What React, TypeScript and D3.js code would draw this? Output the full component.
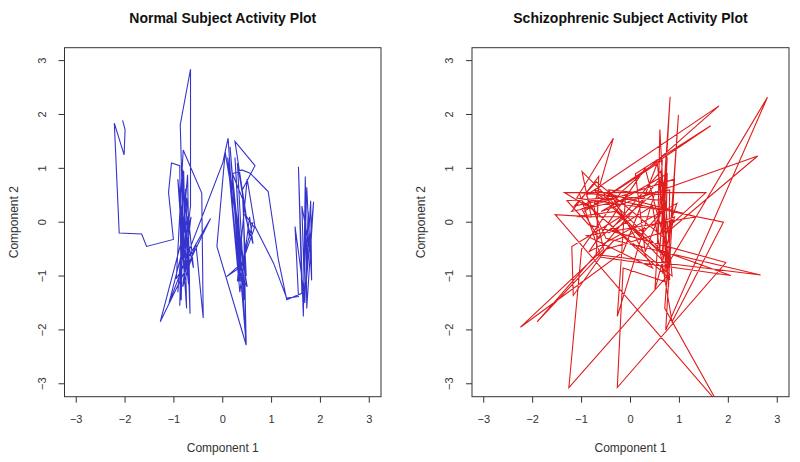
import React from "react";
import * as d3 from "d3";

// Normal subject trajectory: Component 1 (x), Component 2 (y)
const normalX = [
  -2.05, -2.0, -2.02, -2.22, -2.12, -1.66, -1.56, -1.01, -1.11, -1.05, -0.88, -0.85, -0.8, -0.74, -0.92, -0.7, -0.82, -0.88,
  -0.76, -0.67, -0.72, -0.92, -0.74, -0.6, -0.86, -0.78, -0.87, -0.66, -0.66, -0.8, -0.7, -1.28, -0.25, -0.95, -0.81, -0.43,
  -0.4, -0.55, -0.82, -0.65, -1.1, 0.0, 0.11, 0.2, 0.35, 0.15, 0.48, 0.25, 0.38, 0.18, 0.45, 0.3, 0.55, 0.25, 0.66, 0.4,
  0.48, 0.1, 0.35, 0.55, 0.62, 0.45, 0.65, 0.4, 0.08, 0.32, 0.5, 0.05, -0.12, 0.48, 0.42, 0.2, 0.39, 0.56, 0.93, 1.14, 1.31,
  1.62, 1.55, 1.65, 1.69, 1.72, 1.86, 1.7, 1.8, 1.82, 1.75, 1.68, 1.62, 1.78, 1.72, 1.66, 1.48, 1.55, 1.31, 1.04, 0.66, 0.5,
  0.3, 0.62,
];
const normalY = [
  1.89, 1.72, 1.25, 1.84, -0.2, -0.22, -0.45, -0.32, 0.55, 1.1, 1.05, -1.45, 0.95, -1.6, 0.8, -1.15, 0.98, -1.55, 0.62, -1.7,
  0.88, -1.3, 0.45, -0.85, 0.3, -1.1, 1.81, 2.84, 0.3, -0.75, 0.15, -1.85, 0.07, -1.05, 1.34, 0.54, -1.78, -0.4, -1.2, 0.1,
  -1.5, 1.1, 1.56, 0.3, -1.1, 1.4, -2.28, 1.2, -0.9, 1.05, -1.45, 1.1, -0.3, 1.5, 1.05, 0.6, -1.0, 1.2, -1.3, 0.1, -0.4,
  0.15, -0.1, -0.75, -1.01, -0.86, -1.2, 1.3, -0.45, -2.28, 0.4, 0.9, 0.97, 0.91, 0.57, -0.7, -1.44, -1.32, 1.03, -1.75,
  0.85, -1.6, 0.38, -1.2, 0.4, -1.08, 0.2, -1.5, 0.3, -0.5, 0.65, -1.3, -0.08, -1.38, -1.41, -0.76, -0.08, 0.8, -1.1, 0.0,
];

// Schizophrenic subject trajectory
const schizoX = [
  -0.9, -1.35, 1.54, 0.65, 0.81, 0.6, -0.99, -0.8, -1.54, 1.78, 0.7, 0.98, 0.85, -1.1, -0.35, -0.75, -0.55, -2.25, -0.15,
  0.55, 0.78, 0.8, -1.2, -0.65, -0.7, 2.66, -0.5, -0.9, 1.81, -0.2, -1.0, -1.26, 0.75, 0.6, -0.8, -1.91, -0.35, 0.9, 0.5,
  0.65, -0.95, 1.64, 0.1, 0.3, 0.7, -1.05, -0.6, 2.05, 0.55, 0.6, 0.75, -0.2, -1.2, -1.17, -0.5, 0.8, 2.6, -0.6, 0.75, 0.7,
  -0.15, -0.27, 1.95, -0.85, -1.3, -0.5, 1.9, 0.85, 0.45, -0.45, 0.62, 0.8, -0.9, -0.55, 0.2, 0.7, 0.65, 2.8, 0.72, 0.9,
  -1.0, -0.65, 0.5, -0.27, -0.1, -1.15, -0.7, 0.7, 0.95, -0.85, 0.3, 0.8, -0.3, -1.1, 0.6, 0.75, 0.65, -0.75, 1.35, -0.9,
  0.45, -0.45, 0.7, 0.85, -1.0,
];
const schizoY = [
  0.3, 0.55, 0.55, -0.2, 2.33, -0.5, 0.94, 0.1, 0.14, -3.35, -1.6, 1.99, 0.2, 0.45, 1.56, 0.3, -0.5, -1.95, -0.55, 1.1,
  -1.2, 0.6, 0.2, 0.85, -0.6, -0.98, -0.3, 0.5, 2.16, 0.55, -0.5, -3.07, -1.0, 0.8, -0.7, -1.85, -0.35, 0.1, -1.25, 1.15,
  0.2, 1.79, 0.9, -0.55, 0.4, 0.55, -0.65, -0.99, -0.5, 1.72, -0.8, 0.1, -0.45, -1.36, -0.5, -0.15, 1.23, 0.2, 0.9, -1.1,
  -0.85, -3.07, -0.75, -0.05, 0.4, 0.45, 0.0, -1.85, 0.3, -0.2, 0.95, -1.05, 0.35, 0.5, -0.25, 0.25, -0.95, 2.32, -2.0,
  0.8, 0.25, -0.3, 0.55, -1.75, 0.5, 0.3, 0.75, -0.3, 0.35, -0.55, 1.0, -0.7, 0.2, 0.1, 0.1, 1.2, -0.6, 0.6, 0.1, -0.25,
  -0.85, 0.6, 0.5, -1.0, 0.4,
];

const ticks = [-3, -2, -1, 0, 1, 2, 3];

const panels = [
  { title: "Normal Subject Activity Plot", xs: normalX, ys: normalY, color: "#3434cc", left: 64.5, right: 381 },
  { title: "Schizophrenic Subject Activity Plot", xs: schizoX, ys: schizoY, color: "#e01c1c", left: 472, right: 789 },
];

const TOP = 47.7;
const BOTTOM = 396.7;
const FONT = "'Liberation Sans', Arial, Helvetica, sans-serif";
const AXIS = "#333";

function Panel({ p, idx }: { p: (typeof panels)[number]; idx: number }) {
  const x = d3.scaleLinear().domain([-3.24, 3.24]).range([p.left, p.right]);
  const y = d3.scaleLinear().domain([-3.24, 3.24]).range([BOTTOM, TOP]);
  const pts: [number, number][] = p.xs.map((v, i) => [v, p.ys[i]]);
  const line = d3
    .line<[number, number]>()
    .x((d) => x(d[0]))
    .y((d) => y(d[1]));
  const cx = (p.left + p.right) / 2;
  const clipId = `clip${idx}`;
  return (
    <g>
      <defs>
        <clipPath id={clipId}>
          <rect x={p.left} y={TOP} width={p.right - p.left} height={BOTTOM - TOP} />
        </clipPath>
      </defs>
      <text x={cx} y={23} textAnchor="middle" fontFamily={FONT} fontWeight="bold" fontSize={14} fill="#111">
        {p.title}
      </text>
      <path d={line(pts) || ""} fill="none" stroke={p.color} strokeWidth={1.1} clipPath={`url(#${clipId})`} />
      <rect x={p.left} y={TOP} width={p.right - p.left} height={BOTTOM - TOP} fill="none" stroke={AXIS} strokeWidth={1} />
      {ticks.map((t) => (
        <g key={"x" + t}>
          <line x1={x(t)} x2={x(t)} y1={BOTTOM} y2={BOTTOM + 6} stroke={AXIS} />
          <text x={x(t)} y={423} textAnchor="middle" fontFamily={FONT} fontSize={11} fill="#333">
            {t < 0 ? "\u2212" + Math.abs(t) : String(t)}
          </text>
        </g>
      ))}
      {ticks.map((t) => (
        <g key={"y" + t}>
          <line x1={p.left - 6} x2={p.left} y1={y(t)} y2={y(t)} stroke={AXIS} />
          <text
            transform={`translate(${p.left - 19},${y(t)}) rotate(-90)`}
            textAnchor="middle"
            fontFamily={FONT}
            fontSize={11}
            fill="#333"
          >
            {t < 0 ? "\u2212" + Math.abs(t) : String(t)}
          </text>
        </g>
      ))}
      <text x={cx} y={452} textAnchor="middle" fontFamily={FONT} fontSize={12} fill="#333">
        Component 1
      </text>
      <text
        transform={`translate(${p.left - 47},${(TOP + BOTTOM) / 2}) rotate(-90)`}
        textAnchor="middle"
        fontFamily={FONT}
        fontSize={12}
        fill="#333"
      >
        Component 2
      </text>
    </g>
  );
}

export default function App() {
  return (
    <svg width={800} height={462} style={{ position: "absolute", left: 0, top: 0, background: "#fff" }}>
      <rect width={800} height={462} fill="#fff" />
      {panels.map((p, i) => (
        <Panel key={i} p={p} idx={i} />
      ))}
    </svg>
  );
}
